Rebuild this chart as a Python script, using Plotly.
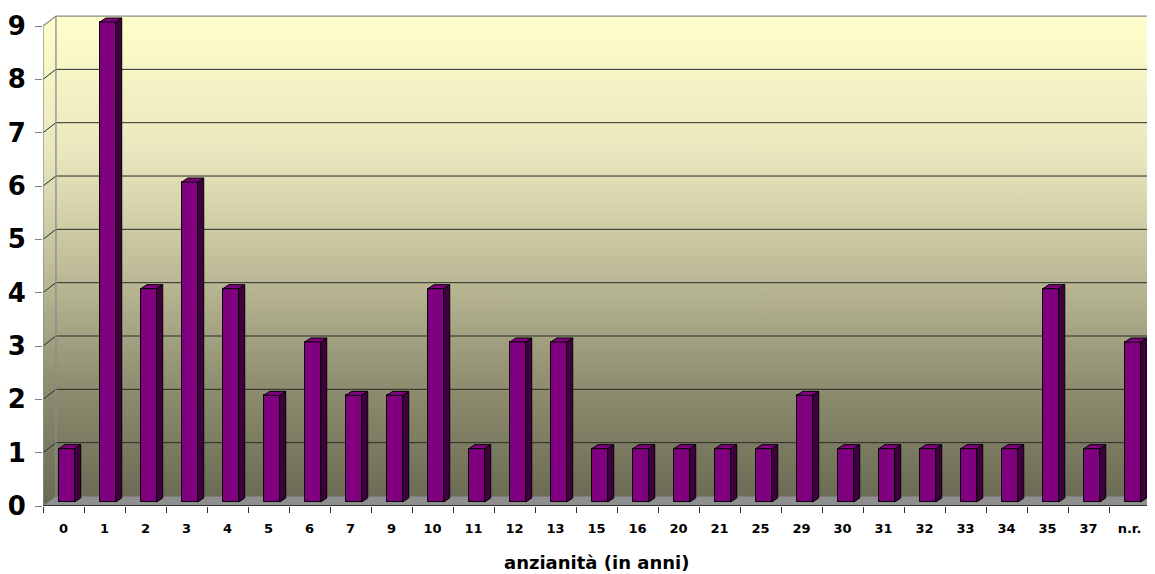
import plotly.graph_objects as go

# ---- data ----
categories = ['0', '1', '2', '3', '4', '5', '6', '7', '9', '10', '11', '12', '13', '15',
              '16', '20', '21', '25', '29', '30', '31', '32', '33', '34', '35', '37', 'n.r.']
values = [1, 9, 4, 6, 4, 2, 3, 2, 2, 4, 1, 3, 3, 1, 1, 1, 1, 1, 2, 1, 1, 1, 1, 1, 4, 1, 3]
y_ticks = list(range(0, 10))
x_title = 'anzianità (in anni)'

# ---- geometry ----
OFF = 8                                   # default page body margin
W, H = 1155 - OFF, 574 - OFF
ML, MR, MT, MB = 39 - OFF, 0, 10 - OFF, H - (506 - OFF)
PXX = (1150 - 39) / len(categories)      # px per category
PXY = 53.33                               # px per unit value
n = len(categories)
XMIN = -0.5
XMAX = XMIN + (W - ML - MR) / PXX
YMAX = (H - MT - MB) / PXY
BDX, BDY = 13 / PXX, 10 / PXY             # back wall depth offset
FDX, FDY = 0.08, 4 / PXY                  # bar plane offset
BW = 16 / PXX                             # bar face width
SDX, SDY = 6 / PXX, 4 / PXY               # bar depth
TOP = max(y_ticks)
XR = XMAX + 1

FONT = 'DejaVu Sans, Arial, sans-serif'
GRID = '#2a2a2a'
EDGE = '#8c8c8c'

fig = go.Figure()

# back wall + left wall with vertical gradient
wall_x = [XMIN, XMIN, XMIN + BDX, XR, XR, XMIN + BDX, XMIN]
wall_y = [0, TOP, TOP + BDY, TOP + BDY, BDY, BDY, 0]
fig.add_trace(go.Scatter(
    x=wall_x, y=wall_y, mode='lines', fill='toself', line=dict(width=0),
    fillgradient=dict(type='vertical', start=0, stop=TOP + BDY,
                      colorscale=[[0, '#696953'], [0.25, '#8f8e70'], [0.5, '#c2c09b'],
                                  [0.72, '#e9e7bd'], [1, '#ffffcc']]),
    hoverinfo='skip', showlegend=False, xaxis='x', yaxis='y'))

# gridlines on back wall and diagonals on left wall
gx, gy = [], []
dx, dy = [], []
for k in y_ticks[1:-1]:
    gx += [XMIN + BDX, XR, None]
    gy += [k + BDY, k + BDY, None]
    dx += [XMIN, XMIN + BDX, None]
    dy += [k, k + BDY, None]
fig.add_trace(go.Scatter(x=gx + dx, y=gy + dy, mode='lines',
                         line=dict(color=GRID, width=1), hoverinfo='skip',
                         showlegend=False, xaxis='x', yaxis='y'))
# wall borders (gray)
ex = [XMIN, XMIN, XMIN + BDX, XR, None, XMIN + BDX, XMIN + BDX]
ey = [0, TOP, TOP + BDY, TOP + BDY, None, TOP + BDY, BDY]
fig.add_trace(go.Scatter(x=ex, y=ey, mode='lines', line=dict(color=EDGE, width=1.3),
                         hoverinfo='skip', showlegend=False, xaxis='x', yaxis='y'))

# floor
fx = [XMIN, XMIN + BDX, XMIN + n + BDX, XMIN + n, XMIN]
fy = [0, BDY, BDY, 0, 0]
fig.add_trace(go.Scatter(x=fx, y=fy, mode='lines', fill='toself', fillcolor='#8f8f8f',
                         line=dict(color='#6a6a6a', width=1), hoverinfo='skip',
                         showlegend=False, xaxis='x', yaxis='y'))
# front edge of floor
fig.add_trace(go.Scatter(x=[XMIN, XMIN + n], y=[0, 0], mode='lines',
                         line=dict(color='#202020', width=1.3), hoverinfo='skip',
                         showlegend=False, xaxis='x', yaxis='y'))

# bars (front faces) on overlay axes
xs = [i + FDX for i in range(n)]
fig.add_trace(go.Bar(x=xs, y=values, base=FDY, width=BW,
                     marker=dict(color='#800080', line=dict(color='#000000', width=1)),
                     showlegend=False, xaxis='x2', yaxis='y2', hoverinfo='skip'))
# sides and tops
sx, sy, tx, ty = [], [], [], []
for i, v in enumerate(values):
    xl = xs[i] - BW / 2
    xr = xs[i] + BW / 2
    sx += [xr, xr + SDX, xr + SDX, xr, xr, None]
    sy += [FDY, FDY + SDY, v + FDY + SDY, v + FDY, FDY, None]
    tx += [xl, xl + SDX, xr + SDX, xr, xl, None]
    ty += [v + FDY, v + FDY + SDY, v + FDY + SDY, v + FDY, v + FDY, None]
fig.add_trace(go.Scatter(x=sx, y=sy, mode='lines', fill='toself', fillcolor='#400040',
                         line=dict(color='#000000', width=1), hoverinfo='skip',
                         showlegend=False, xaxis='x2', yaxis='y2'))
fig.add_trace(go.Scatter(x=tx, y=ty, mode='lines', fill='toself', fillcolor='#800080',
                         line=dict(color='#000000', width=1), hoverinfo='skip',
                         showlegend=False, xaxis='x2', yaxis='y2'))

fig.update_layout(
    width=W, height=H,
    margin=dict(l=ML, r=MR, t=MT, b=MB),
    paper_bgcolor='white', plot_bgcolor='white',
    bargap=0,
    xaxis=dict(range=[XMIN, XMAX], tickvals=list(range(n)), ticktext=categories,
               ticks='', showgrid=False, zeroline=False, showline=False,
               tickfont=dict(family=FONT, size=13, color='#000000', weight='bold'),
               ticklabelstandoff=13,
               minor=dict(tickvals=[i - 0.5 for i in range(n + 1)], ticks='outside',
                          ticklen=6, tickcolor='#303030', tickwidth=1, showgrid=False)),
    yaxis=dict(range=[0, YMAX], tickvals=y_ticks, ticks='outside', ticklen=7,
               tickcolor='#808080', showgrid=False, zeroline=False, showline=False,
               tickfont=dict(family=FONT, size=26, color='#000000', weight='bold'),
               ticklabelstandoff=4),
    xaxis2=dict(range=[XMIN, XMAX], overlaying='x', visible=False),
    yaxis2=dict(range=[0, YMAX], overlaying='y', visible=False),
    annotations=[dict(text=x_title, xref='paper', yref='paper',
                      x=(594 - 39) / (W - ML - MR), y=(506 - 562) / (H - MT - MB),
                      xanchor='center', yanchor='middle', showarrow=False, borderpad=0,
                      font=dict(family=FONT, size=18, color='#000000', weight='bold'))],
)

fig.write_html('out.html')
